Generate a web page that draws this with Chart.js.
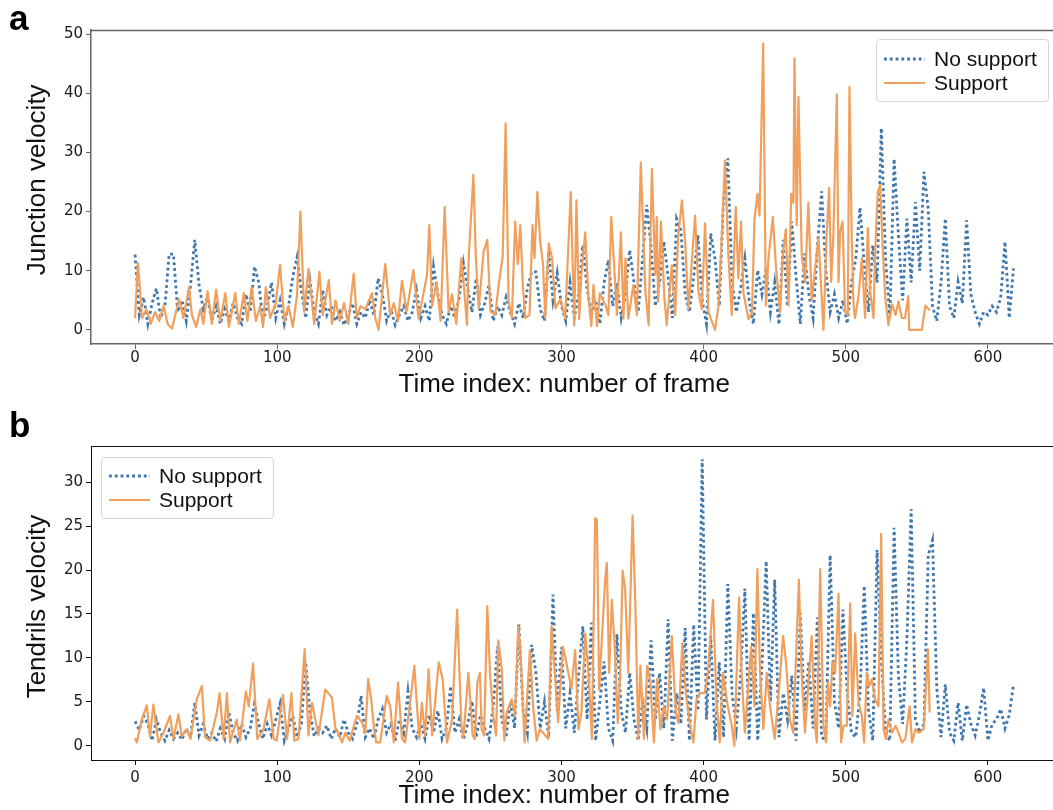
<!DOCTYPE html>
<html>
<head>
<meta charset="utf-8">
<script src="https://cdn.jsdelivr.net/npm/chart.js@4.4.1/dist/chart.umd.min.js"></script>
<style>
html,body{margin:0;padding:0;background:#fff;overflow:hidden;}
#wrap{position:relative;width:1053px;height:810px;overflow:hidden;background:#fff;}
canvas{position:absolute;left:0;}
#ca{top:0;}
#cb{top:405px;}
.plabel{position:absolute;font-family:'Liberation Sans',Arial,sans-serif;font-weight:bold;font-size:35px;line-height:35px;color:#000;}
.legend{position:absolute;box-sizing:border-box;border:1px solid #d6d6d6;border-radius:4px;background:rgba(255,255,255,0.85);font-family:'Liberation Sans',Arial,sans-serif;font-size:21px;color:#111;z-index:5;}
.legend svg{position:absolute;left:7px;width:41px;height:6px;overflow:visible;}
.legend span{position:absolute;left:57px;line-height:24px;height:24px;white-space:nowrap;}
</style>
</head>
<body>
<div id="wrap">
  <canvas id="ca" width="1080" height="405" style="width:1080px;height:405px"></canvas>
  <canvas id="cb" width="1080" height="405" style="width:1080px;height:405px"></canvas>
  <div class="plabel" style="left:9px;top:0px">a</div>
  <div class="plabel" style="left:9px;top:407px">b</div>
  <div class="legend" id="legA" style="left:876px;top:39px;width:173px;height:63px"></div>
  <div class="legend" id="legB" style="left:101px;top:457px;width:173px;height:62px"></div>
</div>
<script>
// ================= data =================
// frame indices used for the "No support" series (both panels)
const noSupportFrames = [
0,3,6,9,12,15,18,21,24,27,
30,33,36,39,42,45,48,51,54,57,
60,63,66,69,72,75,78,81,84,87,
90,93,96,99,102,105,108,111,114,117,
120,123,126,129,132,135,138,141,144,147,
150,153,156,159,162,165,168,171,174,177,
180,183,186,189,192,195,198,201,204,207,
210,213,216,219,222,225,228,231,234,237,
240,243,246,249,252,255,258,261,264,267,
270,273,276,279,282,285,288,291,294,297,
300,303,306,309,312,315,318,321,324,327,
330,333,336,339,342,345,348,351,354,357,
360,363,366,369,372,375,378,381,384,387,
390,393,396,399,402,405,408,411,414,417,
420,423,426,429,432,435,438,441,444,447,
450,453,456,459,462,465,468,471,474,477,
480,483,486,489,492,495,498,501,504,507,
510,513,516,519,522,525,528,531,534,537,
540,543,546,549,552,555,558,561,564,567,
570,573,576,579,582,585,588,591,594,597,
600,603,606,609,612,615,618
];

// ---- Panel a: Junction velocity ----
const junctionNoSupport = [
12.7,2.5,5.5,1.0,4.5,7.0,2.0,4.0,12.8,12.8,
3.0,5.0,1.5,7.5,15.2,7.6,3.5,5.5,1.5,4.0,
1.0,3.5,1.5,4.5,2.0,1.0,6.0,3.0,10.7,8.0,
1.5,4.0,8.0,2.0,5.0,1.0,4.0,9.0,12.3,6.5,
2.0,8.4,3.0,1.0,6.7,2.5,4.0,1.5,3.0,0.8,
2.5,4.5,1.0,3.0,2.0,5.0,2.5,8.7,6.0,1.5,
3.5,0.8,2.5,4.0,1.5,3.0,6.7,2.0,4.0,1.5,
10.7,6.0,2.5,1.0,4.0,2.0,5.5,11.3,7.0,3.0,
8.7,2.5,4.5,7.6,1.5,4.0,2.5,5.5,3.0,1.0,
4.5,2.0,7.0,9.8,9.8,3.5,1.5,13.2,5.0,9.6,
4.0,1.5,8.0,2.0,6.0,14.3,7.0,2.5,5.0,1.0,
8.0,11.8,4.0,7.9,2.0,6.0,13.5,8.0,3.0,12.0,
21.1,14.0,4.0,8.0,14.9,9.0,2.0,18.8,16.9,6.0,
3.0,9.0,16.0,5.0,1.0,16.3,12.0,4.0,22.0,29.0,
8.0,3.0,7.0,12.1,5.0,1.0,10.1,6.0,10.4,3.0,
8.0,0.9,15.2,4.0,18.3,9.0,1.0,12.9,6.0,2.0,
14.0,23.4,10.0,3.0,6.0,2.0,5.0,1.0,8.0,12.0,
20.7,11.0,3.0,14.3,8.0,34.1,12.0,2.0,28.9,16.0,
5.0,18.8,8.0,21.6,10.0,26.7,20.5,4.0,1.5,8.0,
18.8,4.0,2.0,8.1,4.5,18.5,6.0,3.0,1.0,3.0,
2.5,4.0,3.0,5.5,14.9,2.0,10.4
];

const junctionSupportFrames = [
0,2,5,8,11,14,17,20,23,26,
31,34,38,40,43,46,48,51,54,57,
60,63.5,66,68,70.5,73,76.5,79,82,85,
88,90,92,95,99,102,105,108,111,114,
116.3,119,122,126,129.7,132,136.3,138.5,141,144,
147,150,153.8,156,158.5,162,166.7,169,171.3,176,
179.5,182,185,187.8,191,195.8,199.5,202,205.4,207,
209,212,215,217.8,220.6,223,226,229.5,231,233.5,
234.7,238,239.8,241.8,245.2,247.8,250,253.4,255.8,258.6,
260.7,262.8,265.1,267.4,269.3,271,272.8,274.5,277.5,279.6,
281,283,285,287,288.6,291,293.4,295.7,299.2,302.6,
306.5,309,310.5,312.5,314,316.7,319,321,322.5,325,
327,331,333,335,337.3,339,341.8,343.6,345,347,
350.6,353,355.8,359,361.3,363.6,366,367,368,370,
372.4,374,377.6,380,382,384.7,387,389.3,394,396.4,
398.7,401,403.4,408,410.4,412.7,415,417.5,419.8,422.6,
424.4,426.3,428,431.6,434,435.8,437.9,439.3,441.9,443.8,
445.6,448.7,450.8,453.8,455.5,457.8,459.7,461.6,463.2,463.9,
465.5,466.7,469,471.4,473.7,476,480.8,484.3,486.6,488.3,
489.7,491.3,493.7,494.9,496,497.7,499.5,501.4,502.6,504.2,
505.4,506.5,508.9,511.3,513.6,515.5,517.2,519.5,520.6,522.5,
524.2,525.9,527.8,530,532.6,535,537.1,539.4,541.6,544,
544.6,553.5,556,559
];
const junctionSupport = [
2.0,11.3,2.0,3.5,1.0,3.0,1.5,4.0,1.0,0.2,
5.2,2.0,7.2,2.5,0.5,3.5,1.0,6.5,1.0,6.8,
1.5,6.2,0.5,3.0,6.2,1.0,6.2,1.5,7.2,1.5,
4.0,0.5,7.2,2.0,4.5,11.0,1.5,4.0,0.5,6.0,
20.0,3.0,10.3,1.0,9.8,2.5,8.4,1.0,5.0,1.5,
4.5,1.0,9.5,2.0,4.0,3.5,6.2,2.0,0.0,11.1,
2.5,4.5,1.5,8.3,3.0,10.1,1.9,5.0,9.3,17.7,
4.0,8.0,1.5,20.8,3.0,6.0,1.0,12.1,8.4,0.8,
12.0,26.2,12.0,3.7,13.2,15.2,3.1,2.5,7.6,12.4,
34.9,4.8,2.0,18.3,11.1,17.7,7.6,2.0,2.5,17.7,
12.1,23.3,14.9,11.1,2.0,14.6,12.1,3.6,5.2,1.9,
23.3,0.8,21.9,1.8,9.3,16.5,5.4,0.6,7.6,0.6,
6.2,4.1,2.5,19.1,9.8,2.5,16.5,1.9,12.1,1.9,
7.6,2.5,28.3,6.4,0.8,27.2,9.3,19.1,4.8,18.3,
5.4,0.8,10.9,2.5,15.5,21.9,14.9,3.5,19.3,6.4,
3.5,18.0,3.0,0.0,4.0,15.5,28.6,12.1,2.5,20.8,
8.7,18.3,6.2,1.8,3.0,18.8,23.0,19.3,48.4,4.1,
12.1,19.1,10.9,3.0,12.1,17.0,4.1,23.0,21.5,45.9,
17.7,39.4,12.7,8.1,21.5,5.0,15.5,0.0,16.5,24.0,
8.1,16.3,39.8,8.1,16.5,18.3,3.1,2.5,41.1,15.5,
4.3,2.0,5.6,12.1,2.0,17.2,6.4,2.0,12.7,23.3,
24.5,14.3,5.3,0.8,4.3,2.5,4.8,2.0,2.0,5.7,
0.0,0.0,4.1,3.3
];

// ---- Panel b: Tendrils velocity ----
const tendrilsNoSupport = [
2.8,1.8,3.4,2.5,0.6,3.0,1.5,0.6,1.8,0.8,
1.5,0.7,2.0,1.0,4.9,1.2,2.5,0.8,1.5,0.5,
2.0,0.8,3.8,1.5,0.6,2.5,1.0,2.0,4.8,2.5,
0.8,2.5,1.2,3.0,4.8,0.6,2.0,3.4,1.0,2.5,
9.5,4.0,1.1,2.0,1.5,2.3,0.8,2.0,1.0,3.0,
1.5,0.8,2.5,5.7,1.0,2.0,0.8,3.0,4.2,1.5,
2.5,0.6,3.0,1.5,6.2,2.0,1.0,2.5,0.8,3.5,
1.5,4.0,0.8,2.0,6.8,1.5,3.0,0.7,2.5,5.1,
1.0,3.5,2.0,0.8,4.5,11.3,3.0,1.0,5.0,2.0,
13.8,4.0,1.5,11.5,8.3,2.0,5.0,1.0,17.2,4.0,
11.2,2.0,6.0,1.5,8.0,13.6,3.0,14.0,0.6,5.0,
9.6,2.0,0.6,12.7,4.0,1.5,8.3,3.0,0.6,5.0,
2.0,12.0,3.0,8.3,2.0,14.4,0.6,6.0,2.5,13.4,
0.6,13.8,4.0,32.6,3.0,12.5,0.6,9.5,1.0,18.4,
6.0,2.0,8.0,17.9,0.6,15.1,0.6,9.0,21.0,5.0,
18.9,1.0,6.0,3.0,8.0,0.6,15.1,4.0,9.6,2.0,
14.6,1.0,0.6,21.7,5.0,2.0,15.5,6.0,1.5,1.0,
6.0,18.2,4.0,0.6,22.3,10.0,1.5,0.6,24.8,8.0,
2.5,12.1,26.9,3.0,1.5,2.5,21.7,23.4,6.6,1.0,
7.0,1.5,0.6,4.9,0.6,4.7,2.5,1.2,3.5,6.6,
0.6,2.5,3.0,4.2,2.0,3.5,7.0
];

const tendrilsSupportFrames = [
0,1.2,4.7,8.2,10.5,12.9,16.4,20,24.6,27,
30.5,32.8,36.3,39,43.4,47,49.2,52.8,57.5,59.5,
62.3,64.6,66.8,71.5,73.8,78,80,83,86,90.2,
94.5,97.5,99.6,104,106.9,110,112,115,119.3,122,
124.5,129,133.8,138.5,141,143,145.6,148,151,156,
159.6,162,164,166,168,169.7,172.5,177,179.5,182,
185,187.8,190,193,196.5,198,200,201.8,204,206.5,
209,213.6,216.4,219.5,223,226.6,229.6,231,234.5,237.5,
239,240.8,242.6,243.8,245.5,247.8,249.7,252,254,255.5,
258,259.8,261.4,265,267.3,269.6,271,274,277.8,280,
282.5,284.8,287,290.7,293,295.3,297.6,301,303,307,
309.6,312,314,316.7,319,321.4,323.7,324.9,326.5,328.4,
330.7,331.9,333.5,335.4,337.3,339.6,341.3,343,344.8,347,
350,352,354,355.5,358,360.3,362.6,365,367.2,369.6,
372,374.3,377.6,380.4,382.3,385,387.5,390.5,392.8,395,
397.4,400.7,403,406.6,409,411.3,413.6,417,419.8,421.6,
424.9,426.7,429,433.4,435.7,437.8,439.7,442,444.4,446.7,
450,452.4,455.9,458.2,460.6,463,467,468.9,471.3,473.6,
476,478.4,479.6,482,484.3,486,487.4,489,490.6,492.5,
494.9,496.7,498.4,500.7,503.1,504.7,506.6,509,511.3,512.9,
514.8,516.5,518.3,520.6,523,524.9,526.6,528.2,530,532.6,
535,537.1,539.5,541.9,544.9,546.6,549,551.2,554.8,557.8,
559
];
const tendrilsSupport = [
0.9,0.4,3.0,4.6,1.1,4.7,0.4,1.5,3.4,0.8,
3.6,1.1,1.9,0.8,5.3,6.8,1.0,0.6,3.8,6.0,
0.8,6.0,0.4,3.0,0.6,6.2,4.5,9.4,0.8,1.8,
5.3,0.8,0.6,5.8,0.8,6.0,0.6,0.8,11.0,1.2,
4.9,1.2,6.4,5.5,1.9,1.5,0.4,1.5,0.6,3.4,
2.7,1.5,7.6,5.5,2.1,0.4,0.4,5.7,4.5,0.4,
7.2,0.8,0.4,4.2,9.1,5.3,0.8,4.9,1.2,8.7,
1.2,9.5,7.6,0.4,3.0,15.5,2.3,1.0,8.3,1.2,
0.8,7.2,8.3,1.9,1.2,15.9,8.3,3.4,1.2,12.0,
8.7,0.6,3.8,5.3,3.4,13.6,11.3,0.4,10.9,4.5,
0.6,1.9,1.5,0.8,13.6,8.3,2.7,11.3,9.8,6.5,
10.9,1.9,3.8,12.8,8.3,0.8,25.9,25.7,6.4,12.1,
18.9,20.8,8.3,16.6,11.6,2.6,8.3,19.9,17.8,8.3,
26.2,15.9,0.8,9.1,0.8,9.1,7.2,0.4,7.6,1.9,
4.5,3.0,12.5,3.8,2.6,11.7,6.0,2.3,0.4,5.3,
6.0,6.0,8.3,16.6,5.3,0.4,8.3,4.5,2.3,0.0,
16.9,8.3,1.5,11.3,4.5,20.1,8.3,1.9,8.3,4.5,
0.8,5.3,12.5,9.1,3.0,1.5,18.9,8.3,1.5,6.8,
12.5,2.3,0.4,20.1,2.3,0.4,7.2,4.5,9.6,8.3,
17.3,0.4,2.3,2.3,16.2,3.4,12.8,4.9,3.4,0.4,
8.3,6.8,7.6,5.3,4.5,24.1,1.9,0.8,3.0,1.5,
2.3,1.5,0.4,0.8,4.5,0.4,1.9,1.5,1.9,11.0,
3.8
];

const xTicks = [0,100,200,300,400,500,600];
const yTicksA = [0,10,20,30,40,50];
const yTicksB = [0,5,10,15,20,25,30];
const seriesNames = ['No support','Support'];
const xTitle = 'Time index: number of frame';
const yTitleA = 'Junction velocity';
const yTitleB = 'Tendrils velocity';

// ================= styling =================
const BLUE = '#3f77ad';
const ORANGE = '#f0a05c';
const TITLE_FONT = "'Liberation Sans', Arial, sans-serif";
const TICK_FONT = "'DejaVu Sans', sans-serif";

function toPoints(xs, ys) {
  const n = Math.min(xs.length, ys.length);
  const out = [];
  for (let i = 0; i < n; i++) out.push({x: xs[i], y: ys[i]});
  return out;
}

const topSpine = {
  id: 'topSpine',
  afterDraw(chart, args, opts) {
    const {ctx, chartArea} = chart;
    ctx.save();
    ctx.strokeStyle = opts.color;
    ctx.lineWidth = opts.width;
    const y = Math.round(chartArea.top) + (opts.width % 2 ? 0.5 : 0);
    ctx.beginPath();
    ctx.moveTo(chartArea.left, y);
    ctx.lineTo(chartArea.right, y);
    ctx.stroke();
    ctx.restore();
  }
};

function buildPanel(id, p) {
  return new Chart(document.getElementById(id), {
    type: 'line',
    data: {
      datasets: [
        {label: seriesNames[0], data: p.blue, borderColor: BLUE, borderWidth: 2.8,
         borderDash: [2.8, 3], borderCapStyle: 'butt', pointRadius: 0, tension: 0,
         fill: false, order: 2},
        {label: seriesNames[1], data: p.orange, borderColor: ORANGE, borderWidth: 2.2,
         borderJoinStyle: 'round', pointRadius: 0, tension: 0, fill: false, order: 1}
      ]
    },
    options: {
      responsive: false,
      animation: false,
      events: [],
      parsing: true,
      layout: {padding: {top: p.top, right: 21, bottom: 0, left: 0}},
      plugins: {
        legend: {display: false},
        tooltip: {enabled: false},
        topSpine: {color: p.spine, width: p.spineW}
      },
      scales: {
        x: {
          type: 'linear', min: -31, max: 650,
          afterBuildTicks: s => { s.ticks = xTicks.map(v => ({value: v})); },
          afterFit: s => { s.height = p.xh; },
          grid: {display: true, drawOnChartArea: false, drawTicks: true, tickLength: 5,
                 color: p.spine, lineWidth: 1},
          border: {display: true, color: p.spine, width: p.spineW},
          ticks: {font: {family: TICK_FONT, size: 15, lineHeight: 1}, color: '#1a1a1a',
                  padding: p.xpad, maxRotation: 0, autoSkip: false},
          title: {display: true, text: xTitle + '   ',
                  font: {family: TITLE_FONT, size: 26, lineHeight: 1}, color: '#111',
                  padding: {top: 0, bottom: p.xtpad}}
        },
        y: {
          type: 'linear', min: p.ymin, max: p.ymax,
          afterBuildTicks: s => { s.ticks = p.yTicks.map(v => ({value: v})); },
          afterFit: s => { s.width = 91; },
          grid: {display: true, drawOnChartArea: false, drawTicks: true, tickLength: 5,
                 color: p.spine, lineWidth: 1},
          border: {display: true, color: p.spine, width: p.spineW},
          ticks: {font: {family: TICK_FONT, size: 15, lineHeight: 1}, color: '#1a1a1a',
                  padding: 3},
          title: {display: true, text: p.yTitle,
                  font: {family: TITLE_FONT, size: 26, lineHeight: 1}, color: '#111',
                  padding: {top: 25, bottom: 0}}
        }
      }
    },
    plugins: [topSpine]
  });
}

buildPanel('ca', {
  blue: toPoints(noSupportFrames, junctionNoSupport),
  orange: toPoints(junctionSupportFrames, junctionSupport),
  top: 30, xh: 61, xpad: 2, xtpad: 7.5,
  ymin: -2.4, ymax: 50.7, yTicks: yTicksA, yTitle: '  ' + yTitleA,
  spine: '#666', spineW: 1.5
});
buildPanel('cb', {
  blue: toPoints(noSupportFrames, tendrilsNoSupport),
  orange: toPoints(tendrilsSupportFrames, tendrilsSupport),
  top: 41, xh: 50, xpad: 6, xtpad: 1,
  ymin: -1.6, ymax: 34.1, yTicks: yTicksB, yTitle: yTitleB + ' ',
  spine: '#111', spineW: 1
});

// ================= legends (HTML overlay) =================
function buildLegend(el, rows) {
  const styles = [
    {color: BLUE, w: 2.8, dash: '2.8 3'},
    {color: ORANGE, w: 2.2, dash: ''}
  ];
  seriesNames.forEach((name, i) => {
    const cy = rows[i];
    const svgNS = 'http://www.w3.org/2000/svg';
    const svg = document.createElementNS(svgNS, 'svg');
    svg.setAttribute('width', '41');
    svg.setAttribute('height', '6');
    svg.style.top = (cy - 3) + 'px';
    const ln = document.createElementNS(svgNS, 'line');
    ln.setAttribute('x1', '0'); ln.setAttribute('y1', '3');
    ln.setAttribute('x2', '41'); ln.setAttribute('y2', '3');
    ln.setAttribute('stroke', styles[i].color);
    ln.setAttribute('stroke-width', styles[i].w);
    if (styles[i].dash) ln.setAttribute('stroke-dasharray', styles[i].dash);
    svg.appendChild(ln);
    el.appendChild(svg);
    const sp = document.createElement('span');
    sp.textContent = name;
    sp.style.top = (cy - 12) + 'px';
    el.appendChild(sp);
  });
}
buildLegend(document.getElementById('legA'), [18.5, 42.5]);
buildLegend(document.getElementById('legB'), [17.5, 41.5]);
</script>
</body>
</html>
